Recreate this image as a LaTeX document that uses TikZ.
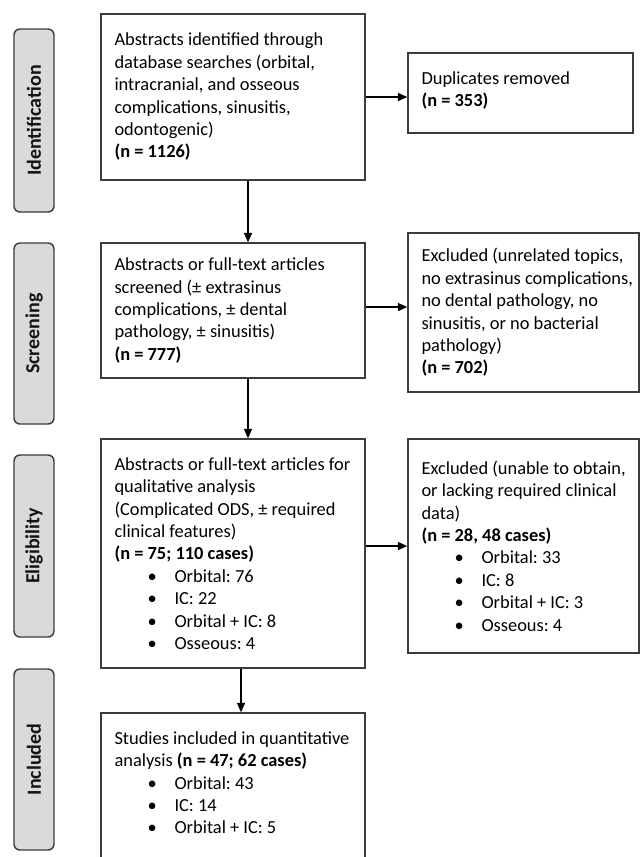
\documentclass[tikz,border=0pt]{standalone}
\usepackage{fontspec}
\setmainfont{Carlito}
\usetikzlibrary{arrows.meta}
\definecolor{boxgray}{RGB}{60,60,60}
\definecolor{labgray}{RGB}{218,218,218}
\newcommand\bul[1]{\hspace*{24.75pt}\makebox[20.25pt][l]{\textbullet}#1}
\frenchspacing
\begin{document}
\begin{tikzpicture}[x=0.75pt,y=-0.75pt,
  box/.style={draw=boxgray, line width=1.1pt, fill=white, inner sep=0pt},
  lab/.style={draw=boxgray, line width=1.1pt, fill=labgray, rounded corners=4.5pt,
    inner sep=0pt, rotate=90, minimum height=30pt,
    font=\fontsize{15pt}{18pt}\selectfont\bfseries, text=black!92},
  txt/.style={anchor=west, inner sep=0pt, align=left,
    font=\fontsize{13.8pt}{16.8pt}\selectfont},
  arr/.style={line width=1.1pt, -{Triangle[length=7pt,width=6pt]}}]
\clip (0,0) rectangle (640,857);
\fill[white] (0,0) rectangle (640,857);
% phase labels
\node[lab, minimum width=137.25pt] (l1) at (34,120.5) {Identification};
\node[lab, minimum width=135.75pt] (l2) at (34,333.5) {Screening};
\node[lab, minimum width=136.5pt] (l3) at (34,546) {Eligibility};
\node[lab, minimum width=135.75pt] (l4) at (34,759.5) {Included};
% boxes
\node[box, minimum width=198pt, minimum height=124.5pt] (b1) at (233,97) {};
\node[box, minimum width=168.75pt, minimum height=60pt] (dup) at (520.5,93) {};
\node[box, minimum width=198pt, minimum height=101.25pt] (b2) at (233,310.5) {};
\node[box, minimum width=173.25pt, minimum height=119.25pt] (ex2) at (523.5,312.5) {};
\node[box, minimum width=198pt, minimum height=171.75pt] (b3) at (233,553.5) {};
\node[box, minimum width=173.25pt, minimum height=160.5pt] (ex3) at (523.5,546) {};
\node[box, minimum width=198pt, minimum height=117.75pt] (b4) at (233,791.5) {};
% texts
\node[txt] (t1) at ([xshift=10.5pt]b1.west) {Abstracts identified through\\database searches (orbital,\\intracranial, and osseous\\complications, sinusitis,\\odontogenic)\\\textbf{(n = 1126)}};
\node[txt] (td) at ([xshift=10.5pt,yshift=2pt]dup.west) {Duplicates removed\\\textbf{(n = 353)}};
\node[txt] (t2) at ([xshift=10.5pt]b2.west) {Abstracts or full-text articles\\screened (± extrasinus\\complications, ± dental\\pathology, ± sinusitis)\\\textbf{(n = 777)}};
\node[txt] (te2) at ([xshift=10.5pt]ex2.west) {Excluded (unrelated topics,\\no extrasinus complications,\\no dental pathology, no\\sinusitis, or no bacterial\\pathology)\\\textbf{(n = 702)}};
\node[txt] (t3) at ([xshift=10.5pt]b3.west) {Abstracts or full-text articles for\\qualitative analysis\\(Complicated ODS, ± required\\clinical features)\\\textbf{(n = 75; 110 cases)}\\\bul{Orbital: 76}\\\bul{IC: 22}\\\bul{Orbital + IC: 8}\\\bul{Osseous: 4}};
\node[txt] (te3) at ([xshift=10.5pt]ex3.west) {Excluded (unable to obtain,\\or lacking required clinical\\data)\\\textbf{(n = 28, 48 cases)}\\\bul{Orbital: 33}\\\bul{IC: 8}\\\bul{Orbital + IC: 3}\\\bul{Osseous: 4}};
\node[txt, anchor=north west] (t4) at ([xshift=10.5pt,yshift=-14.25pt]b4.north west) {Studies included in quantitative\\analysis \textbf{(n = 47; 62 cases)}\\\bul{Orbital: 43}\\\bul{IC: 14}\\\bul{Orbital + IC: 5}};
% arrows
\draw[arr] (b1.east) -- (b1.east -| dup.west);
\draw[arr] ([xshift=11.25pt]b1.south) -- ([xshift=11.25pt]b1.south |- b2.north);
\draw[arr] ([yshift=2.6pt]b2.east) -- ([yshift=2.6pt]b2.east -| ex2.west);
\draw[arr] ([xshift=11.25pt]b2.south) -- ([xshift=11.25pt]b2.south |- b3.north);
\draw[arr] ([yshift=5.6pt]b3.east) -- ([yshift=5.6pt]b3.east -| ex3.west);
\draw[arr] ([xshift=6pt]b3.south) -- ([xshift=6pt]b3.south |- b4.north);
\end{tikzpicture}
\end{document}
